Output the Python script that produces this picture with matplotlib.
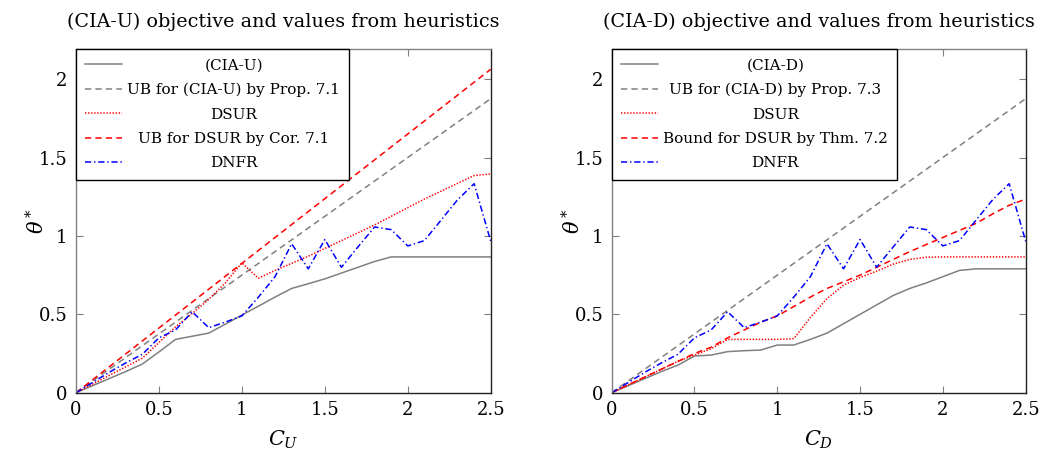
import numpy as np
import matplotlib
matplotlib.use('Agg')
import matplotlib.pyplot as plt

plt.rcParams['font.family'] = 'DejaVu Serif'
plt.rcParams['mathtext.fontset'] = 'dejavuserif'
plt.rcParams['lines.scale_dashes'] = False

# budget values C (same grid for both panels)
c = [0.0, 0.1, 0.2, 0.3, 0.4, 0.5, 0.6, 0.7, 0.8, 0.9, 1.0, 1.1, 1.2,
     1.3, 1.4, 1.5, 1.6, 1.7, 1.8, 1.9, 2.0, 2.1, 2.2, 2.3, 2.4, 2.5]

# left panel: (CIA-U)
cia_u = [0.0, 0.045, 0.09, 0.135, 0.183, 0.26, 0.34, 0.36, 0.38, 0.437, 0.495,
         0.552, 0.61, 0.665, 0.695, 0.726, 0.763, 0.80, 0.837, 0.866, 0.866,
         0.866, 0.866, 0.866, 0.866, 0.866]
dsur_u = [0.0, 0.055, 0.11, 0.165, 0.22, 0.32, 0.42, 0.505, 0.595, 0.70, 0.828,
          0.73, 0.78, 0.825, 0.87, 0.92, 0.97, 1.02, 1.07, 1.125, 1.18, 1.235,
          1.285, 1.335, 1.385, 1.395]
ub_ends = [0.0, 2.5]
ub_cia = [0.0, 1.875]
ub_dsur_u = [0.0, 2.0625]

# DNFR values (identical in both panels)
dnfr = [0.0, 0.065, 0.13, 0.19, 0.245, 0.35, 0.40, 0.516, 0.415, 0.45, 0.49,
        0.61, 0.74, 0.95, 0.79, 0.977, 0.80, 0.93, 1.057, 1.04, 0.936, 0.97,
        1.10, 1.23, 1.333, 0.966]

# right panel: (CIA-D)
cia_d = [0.0, 0.045, 0.09, 0.135, 0.176, 0.234, 0.24, 0.262, 0.268, 0.272, 0.304,
         0.304, 0.34, 0.38, 0.44, 0.50, 0.56, 0.62, 0.665, 0.70, 0.74, 0.78,
         0.79, 0.79, 0.79, 0.79]
dsur_d = [0.0, 0.05, 0.10, 0.15, 0.20, 0.24, 0.28, 0.34, 0.34, 0.34, 0.34,
          0.345, 0.48, 0.60, 0.686, 0.735, 0.775, 0.82, 0.85, 0.864, 0.866,
          0.866, 0.866, 0.866, 0.866, 0.866]
bound_d = [0.0, 0.05, 0.10, 0.15, 0.20, 0.25, 0.29, 0.35, 0.40, 0.45, 0.49,
           0.55, 0.61, 0.665, 0.707, 0.75, 0.80, 0.85, 0.90, 0.945, 0.99, 1.035,
           1.08, 1.14, 1.195, 1.235]

xticks = [0, 0.5, 1, 1.5, 2, 2.5]
xticklabels = ['0', '0.5', '1', '1.5', '2', '2.5']
yticks = [0, 0.5, 1, 1.5, 2]
yticklabels = ['0', '0.5', '1', '1.5', '2']

GRAY = '#808080'
RED = '#ff0000'
BLUE = '#0000ff'
LW = 1.1
DASHED = (0, (4.5, 3))
DOTTED = (0, (1, 1.2))
DASHDOT = (0, (4.5, 2, 1, 2))

fig = plt.figure(figsize=(10.41, 4.54), dpi=100)
ax1 = fig.add_axes([0.0730, 0.135, 0.3984, 0.7564])
ax2 = fig.add_axes([0.5876, 0.135, 0.3977, 0.7564])


def style_axes(ax, title, xlabel):
    ax.set_xlim(0, 2.5)
    ax.set_ylim(0, 2.19)
    ax.set_xticks(xticks)
    ax.set_xticklabels(xticklabels)
    ax.set_yticks(yticks)
    ax.set_yticklabels(yticklabels)
    ax.tick_params(direction='in', top=True, right=True, length=5, width=0.8,
                   color=GRAY, labelsize=13, pad=6)
    for side in ['left', 'top']:
        ax.spines[side].set_color(GRAY)
    for side in ['right', 'bottom']:
        ax.spines[side].set_color('#222222')
    for sp in ax.spines.values():
        sp.set_linewidth(1.0)
    ax.set_title(title, fontsize=13.8, pad=16)
    ax.set_xlabel(xlabel, fontsize=15, labelpad=7)
    ax.set_ylabel(r'$\theta^*$', fontsize=15, labelpad=-7)


def add_legend(ax):
    leg = ax.legend(loc='upper left', borderaxespad=0, fancybox=False,
                    framealpha=1, edgecolor='black', fontsize=11,
                    handlelength=2.4, handletextpad=0.35, labelspacing=0.68,
                    borderpad=0.6)
    leg.get_frame().set_linewidth(1.0)
    return leg


# (CIA-U)
ax1.plot(c, cia_u, color=GRAY, lw=LW, label='(CIA-U)')
ax1.plot(ub_ends, ub_cia, color=GRAY, lw=LW, linestyle=DASHED,
         label='UB for (CIA-U) by Prop. 7.1')
ax1.plot(c, dsur_u, color=RED, lw=LW, linestyle=DOTTED, label='DSUR')
ax1.plot(ub_ends, ub_dsur_u, color=RED, lw=LW, linestyle=DASHED,
         label='UB for DSUR by Cor. 7.1')
ax1.plot(c, dnfr, color=BLUE, lw=LW, linestyle=DASHDOT, label='DNFR')
style_axes(ax1, '(CIA-U) objective and values from heuristics', r'$C_U$')
leg1 = add_legend(ax1)

# (CIA-D)
ax2.plot(c, cia_d, color=GRAY, lw=LW, label='(CIA-D)')
ax2.plot(ub_ends, ub_cia, color=GRAY, lw=LW, linestyle=DASHED,
         label='UB for (CIA-D) by Prop. 7.3')
ax2.plot(c, dsur_d, color=RED, lw=LW, linestyle=DOTTED, label='DSUR')
ax2.plot(c, bound_d, color=RED, lw=LW, linestyle=DASHED,
         label='Bound for DSUR by Thm. 7.2')
ax2.plot(c, dnfr, color=BLUE, lw=LW, linestyle=DASHDOT, label='DNFR')
style_axes(ax2, '(CIA-D) objective and values from heuristics', r'$C_D$')
leg2 = add_legend(ax2)

# center the legend entries within the label column
fig.canvas.draw()
for leg in (leg1, leg2):
    texts = leg.get_texts()
    widths = [t.get_window_extent().width for t in texts]
    wmax = max(widths)
    for t, w in zip(texts, widths):
        t.set_x((wmax - w) / 2)

fig.savefig('out.png', dpi=100)
